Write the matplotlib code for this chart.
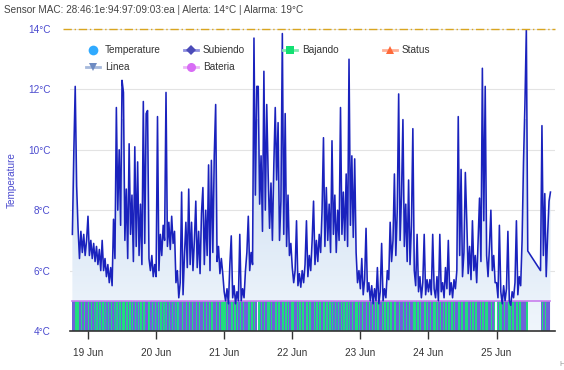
import matplotlib
matplotlib.use('Agg')
import matplotlib.pyplot as plt
import matplotlib.dates as mdates
from matplotlib.colors import LinearSegmentedColormap
from matplotlib.lines import Line2D
from matplotlib.patches import PathPatch
import numpy as np
import pandas as pd

plt.rcParams['font.family'] = ['Liberation Sans', 'DejaVu Sans']

# temperature readings, one every 30 min
temp_start = '2024-06-18 18:30'
temp_jun18 = [7.2, 9.9, 12.1, 8.8, 7.4, 6.4, 7.3, 6.6, 7.2, 6.5, 7.0]
temp_jun19 = [7.8, 6.5, 7.0, 6.4, 6.9, 6.3, 6.8, 6.2, 6.7, 6.0,
              7.0, 6.0, 6.4, 5.8, 6.2, 5.6, 6.1, 5.5, 7.7, 6.4,
              11.4, 8.0, 10.0, 7.5, 12.3, 11.9, 7.0, 8.7, 6.4, 10.2,
              7.2, 8.5, 6.3, 10.1, 6.8, 9.6, 6.5, 8.2, 6.2, 11.6,
              6.9, 11.2, 11.3, 6.4, 6.0, 6.5, 5.8, 6.2]
temp_jun20 = [5.8, 11.1, 6.0, 7.2, 6.5, 7.5, 7.0, 11.9, 6.8, 7.6,
              6.7, 7.8, 6.9, 7.3, 5.6, 6.0, 5.1, 5.6, 8.6, 5.2,
              6.5, 7.6, 6.1, 8.7, 6.2, 7.6, 6.0, 7.0, 8.3, 6.1,
              7.3, 5.9, 7.9, 8.75, 6.2, 8.0, 6.5, 9.5, 6.0, 9.65,
              6.6, 9.8, 11.5, 6.3, 6.8, 5.9, 6.4, 5.9]
temp_jun21 = [5.3, 5.0, 5.4, 4.9, 6.2, 7.15, 5.1, 5.5, 4.9, 5.3,
              5.0, 7.2, 5.0, 5.4, 5.1, 6.0, 6.6, 7.8, 6.0, 6.6,
              6.2, 13.7, 8.5, 12.1, 12.1, 8.2, 9.8, 7.3, 12.6, 8.0,
              11.5, 9.2, 7.4, 8.9, 7.0, 9.5, 11.4, 9.0, 10.9, 7.0,
              8.3, 13.85, 7.2, 11.2, 6.8, 8.5, 6.5, 6.9]
temp_jun22 = [6.1, 5.6, 6.0, 7.65, 5.5, 5.9, 5.45, 6.0, 5.6, 6.2,
              7.65, 5.8, 6.5, 6.0, 7.0, 8.3, 6.2, 7.0, 6.3, 7.2,
              6.6, 8.0, 10.4, 6.8, 8.75, 7.0, 8.2, 6.6, 10.3, 7.2,
              8.5, 6.6, 8.0, 7.0, 11.4, 7.2, 8.6, 7.0, 9.2, 6.8,
              13.0, 7.5, 9.8, 7.1, 9.7, 6.6, 5.6, 6.0]
temp_jun23 = [5.4, 6.4, 5.2, 5.7, 7.4, 5.3, 5.6, 5.0, 5.5, 4.9,
              5.4, 5.0, 6.1, 4.9, 5.3, 6.9, 5.0, 5.4, 5.1, 6.0,
              5.7, 7.6, 6.3, 7.0, 9.2, 6.5, 8.0, 11.85, 7.0, 8.5,
              11.0, 6.8, 8.2, 6.3, 9.0, 6.2, 7.5, 10.7, 6.0, 5.5,
              7.2, 5.3, 5.8, 5.1, 5.6, 7.2, 5.2, 5.7]
temp_jun24 = [5.3, 5.7, 5.2, 7.2, 5.4, 5.1, 5.8, 5.0, 7.2, 5.3,
              5.6, 5.1, 6.1, 5.4, 7.0, 5.2, 5.6, 5.1, 5.7, 5.4,
              6.0, 11.1, 6.5, 9.35, 5.8, 6.6, 9.25, 7.65, 5.9, 6.8,
              5.7, 7.65, 6.0, 6.5, 5.6, 7.0, 8.4, 6.3, 12.7, 7.65,
              12.1, 6.5, 5.8, 6.8, 8.0, 6.0, 6.5, 5.6]
temp_jun25 = [5.6, 5.1, 7.5, 5.3, 4.9, 5.5, 5.0, 5.4, 7.3, 5.0,
              4.85, 5.3, 5.1, 5.6, 7.65, 5.2, 5.8, 5.5, 7.0, 9.6,
              11.5, 14.0, 6.65]
# second block after the gap in the data
temp_start2 = '2024-06-25 15:30'
temp_jun25_late = [6.0, 10.8, 6.5, 8.55, 5.8, 7.2, 8.3, 8.6]

title = 'Sensor MAC: 28:46:1e:94:97:09:03:ea | Alerta: 14°C | Alarma: 19°C'
alerta = 14
bateria_level = 5
y_ticks = [4, 6, 8, 10, 12, 14]
x_ticks = ['2024-06-19', '2024-06-20', '2024-06-21', '2024-06-22',
           '2024-06-23', '2024-06-24', '2024-06-25']
legend_names = ['Temperature', 'Subiendo', 'Bajando', 'Status', 'Linea', 'Bateria']

block1 = (temp_jun18 + temp_jun19 + temp_jun20 + temp_jun21 + temp_jun22
          + temp_jun23 + temp_jun24 + temp_jun25)
blocks = [(temp_start, block1), (temp_start2, temp_jun25_late)]

W, H = 564, 370
fig = plt.figure(figsize=(W / 100, H / 100), dpi=100)
ax = fig.add_axes([70 / W, 39 / H, 485 / W, 302 / H])

step = 0.5 / 24
times, vals = [], []
for start, v in blocks:
    t = mdates.date2num(pd.date_range(start, periods=len(v), freq='30min'))
    times.append(t)
    vals.append(np.array(v))
    # rising / falling status bars
    d = np.diff(v)
    up = d > 0
    down = d < 0
    ax.bar(t[:-1][down], 1, bottom=4, width=step, align='edge',
           color='#20dd7e', linewidth=0, zorder=2)
    ax.bar(t[:-1][up], 1, bottom=4, width=step, align='edge',
           color='#6d63d8', linewidth=0, zorder=2)

t_all = np.concatenate(times)
v_all = np.concatenate(vals)

# gradient area under the line
poly = ax.fill_between(t_all, v_all, 4, facecolor='none', edgecolor='none')
clip = PathPatch(poly.get_paths()[0], transform=ax.transData,
                 facecolor='none', edgecolor='none')
ax.add_patch(clip)
cmap = LinearSegmentedColormap.from_list('area', ['#f0f6fc', '#c9dbf0'])
grad = np.linspace(0, 1, 256).reshape(-1, 1)
im = ax.imshow(grad, extent=[t_all[0], t_all[-1], 4, 11], aspect='auto',
               origin='lower', cmap=cmap, zorder=1)
im.set_clip_path(clip)

ax.plot(t_all, v_all, color='#1a22bd', lw=1.15, zorder=4)
ax.plot([t_all[0], t_all[-1]], [bateria_level, bateria_level],
        color='#c97ded', lw=1.2, zorder=3)

x0 = mdates.date2num(pd.Timestamp('2024-06-19')) - 6.34 / 24
x1 = mdates.date2num(pd.Timestamp('2024-06-19')) + 164.6 / 24
ax.set_xlim(x0, x1)
ax.set_ylim(4, 14)

ax.axhline(alerta, xmin=-7 / 485, xmax=1, color='#d9a520', lw=1,
           linestyle=(0, (6, 2, 1, 2)), clip_on=False, zorder=5)

ax.set_yticks(y_ticks)
ax.set_yticklabels(['%d°C' % v for v in y_ticks])
ax.tick_params(axis='y', length=0, pad=14, labelsize=7.2, labelcolor='#4b4bcf')
ax.grid(axis='y', color='#e3e3e3', lw=0.8, zorder=0)
ax.set_axisbelow(True)

ax.set_xticks(mdates.date2num(pd.to_datetime(x_ticks)))
ax.xaxis.set_major_formatter(mdates.DateFormatter('%d %b'))
ax.tick_params(axis='x', length=6, width=1, color='#333333', pad=6,
               labelsize=7.2, labelcolor='#333333')

for s in ['top', 'right', 'left']:
    ax.spines[s].set_visible(False)
ax.spines['bottom'].set_color('#333333')
ax.spines['bottom'].set_linewidth(1.2)

fig.text(4 / W, 1 - 10 / H, title, fontsize=7.2, color='#444444', va='center')
fig.text(12 / W, 1 - 180 / H, 'Temperature', rotation=90, fontsize=7.2,
         color='#4b4bcf', ha='center', va='center')
fig.text(559 / W, 1 - 365 / H, 'Highcharts.com', fontsize=5.5,
         color='#999999', va='center')


def legend_item(x, y, name, marker, mcolor, lcolor, msize):
    fx = lambda px: px / W
    fy = lambda py: 1 - py / H
    if lcolor:
        fig.add_artist(Line2D([fx(x - 7), fx(x + 7)], [fy(y), fy(y)],
                              color=lcolor, lw=2))
    fig.add_artist(Line2D([fx(x)], [fy(y)], marker=marker, color=mcolor,
                          markersize=msize, markeredgewidth=0, linestyle=''))
    fig.text(fx(x + 12), fy(y), name, fontsize=7.2, color='#333333',
             va='center')


legend_item(93, 50, legend_names[0], 'o', '#2faaff', None, 7)
legend_item(191, 50, legend_names[1], 'D', '#4b4bb8', '#8f8fe0', 5)
legend_item(290, 50, legend_names[2], 's', '#12e072', '#80eab0', 6)
legend_item(390, 50, legend_names[3], '^', '#ff6a3a', '#ffb096', 6)
legend_item(93, 67, legend_names[4], 'v', '#6e8bc2', '#a6b9dc', 6)
legend_item(191, 67, legend_names[5], 'o', '#d86cf5', '#ebb5f8', 6.5)

fig.savefig('out.png', dpi=100)
